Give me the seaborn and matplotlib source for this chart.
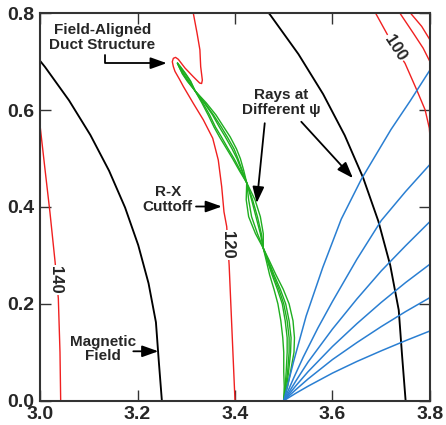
import matplotlib
matplotlib.use("Agg")
import matplotlib.pyplot as plt
import seaborn as sns
import pandas as pd

# ---------------- data ----------------
# Magnetic field lines
field1_x = [3.2500, 3.2437, 3.2378, 3.2227, 3.2015, 3.1745, 3.1417, 3.1033, 3.0595, 3.0104, 2.9785]
field1_y = [0.0000, 0.0812, 0.1620, 0.2422, 0.3212, 0.3989, 0.4748, 0.5487, 0.6202, 0.6890, 0.7289]
field2_x = [3.7500, 3.7427, 3.7359, 3.7185, 3.6941, 3.6629, 3.6251, 3.5808, 3.5302, 3.4735, 3.4615]
field2_y = [0.0000, 0.0937, 0.1870, 0.2794, 0.3706, 0.4603, 0.5479, 0.6331, 0.7156, 0.7950, 0.8105]

# R-X cutoff contours
red140_x = [3.000, 3.010, 3.0205, 3.031, 3.0376, 3.041, 3.0424]
red140_y = [0.569, 0.480, 0.388, 0.286, 0.211, 0.100, 0.000]
red120_x = [3.3145, 3.322, 3.328, 3.3296, 3.3330, 3.3315, 3.3275, 3.3145, 3.2974, 3.2837,
            3.2780, 3.2735, 3.2714, 3.2735, 3.2769, 3.2860, 3.2940, 3.3145, 3.3350, 3.3543,
            3.3657, 3.3727, 3.3774, 3.3830, 3.3880, 3.3940, 3.4000]
red120_y = [0.800, 0.760, 0.7246, 0.690, 0.662, 0.655, 0.656, 0.669, 0.687, 0.705,
            0.709, 0.707, 0.700, 0.690, 0.680, 0.664, 0.649, 0.614, 0.580, 0.542,
            0.497, 0.442, 0.390, 0.3595, 0.280, 0.140, 0.000]
red100a_x = [3.6886, 3.711, 3.728, 3.7487, 3.7727, 3.790, 3.7986, 3.800]
red100a_y = [0.800, 0.759, 0.728, 0.697, 0.642, 0.6006, 0.563, 0.545]
red100b_x = [3.7385, 3.7658, 3.786, 3.800]
red100b_y = [0.800, 0.759, 0.728, 0.700]
red100c_x = [3.7603, 3.783, 3.800]
red100c_y = [0.800, 0.773, 0.745]

# Ducted (green) rays
green_y = [0.0, 0.03, 0.06, 0.10, 0.13, 0.165, 0.20, 0.23, 0.26, 0.29, 0.315, 0.345, 0.38, 0.415,
           0.45, 0.475, 0.50, 0.52, 0.545, 0.565, 0.59, 0.615, 0.64, 0.66, 0.675, 0.69, 0.697]
green_a = [3.500, 3.508, 3.514, 3.521, 3.522, 3.519, 3.511, 3.499, 3.484, 3.470, 3.458, 3.442, 3.428, 3.423,
           3.424, 3.418, 3.411, 3.403, 3.390, 3.377, 3.361, 3.341, 3.318, 3.302, 3.292, 3.285, 3.282]
green_b = [3.500, 3.506, 3.510, 3.514, 3.515, 3.511, 3.504, 3.493, 3.480, 3.468, 3.458, 3.446, 3.434, 3.428,
           3.424, 3.415, 3.406, 3.398, 3.384, 3.372, 3.356, 3.338, 3.318, 3.308, 3.298, 3.287, 3.282]
green_c = [3.500, 3.503, 3.505, 3.507, 3.507, 3.503, 3.497, 3.487, 3.476, 3.466, 3.458, 3.454, 3.446, 3.436,
           3.424, 3.411, 3.398, 3.386, 3.372, 3.360, 3.348, 3.334, 3.318, 3.305, 3.295, 3.286, 3.282]
green_d = [3.500, 3.501, 3.500, 3.500, 3.498, 3.494, 3.488, 3.480, 3.471, 3.464, 3.458, 3.458, 3.452, 3.441,
           3.424, 3.409, 3.395, 3.383, 3.368, 3.357, 3.345, 3.332, 3.318, 3.309, 3.299, 3.288, 3.282]
green_e = [3.500, 3.504, 3.508, 3.511, 3.511, 3.507, 3.500, 3.490, 3.478, 3.467, 3.458, 3.452, 3.443, 3.434,
           3.424, 3.414, 3.404, 3.394, 3.380, 3.368, 3.354, 3.337, 3.318, 3.303, 3.293, 3.285, 3.282]

# Unducted (blue) rays at different psi
blue1_x = [3.500, 3.520, 3.546, 3.580, 3.618, 3.659, 3.720, 3.760, 3.800]
blue1_y = [0.000, 0.080, 0.175, 0.275, 0.375, 0.457, 0.560, 0.620, 0.683]
blue2_x = [3.500, 3.520, 3.540, 3.570, 3.600, 3.650, 3.700, 3.750, 3.800]
blue2_y = [0.000, 0.046, 0.090, 0.150, 0.205, 0.292, 0.372, 0.432, 0.488]
blue_x = [3.500, 3.525, 3.550, 3.600, 3.650, 3.700, 3.750, 3.800]
blue3_y = [0.000, 0.041, 0.080, 0.148, 0.210, 0.268, 0.320, 0.370]
blue4_y = [0.000, 0.031, 0.060, 0.112, 0.159, 0.203, 0.244, 0.282]
blue5_y = [0.000, 0.023, 0.045, 0.085, 0.120, 0.153, 0.184, 0.213]
blue6_y = [0.000, 0.0155, 0.030, 0.057, 0.081, 0.103, 0.124, 0.144]

xticks = [3.0, 3.2, 3.4, 3.6, 3.8]
xtick_labels = ["3.0", "3.2", "3.4", "3.6", "3.8"]
yticks = [0.0, 0.2, 0.4, 0.6, 0.8]
ytick_labels = ["0.0", "0.2", "0.4", "0.6", "0.8"]

# ---------------- styling ----------------
sns.set_style("ticks")
plt.rcParams['font.family'] = ['Liberation Sans', 'DejaVu Sans']

RED = "#f02020"
GREEN = "#1fae1f"
BLUE = "#2a7fd2"

fig = plt.figure(figsize=(4.46, 4.25), dpi=100)
ax = fig.add_axes([0.0897, 0.0572, 0.8744, 0.9115])


def line(xs, ys, color, lw):
    df = pd.DataFrame({"x": xs, "y": ys})
    sns.lineplot(data=df, x="x", y="y", sort=False, estimator=None,
                 color=color, linewidth=lw, ax=ax)


# field lines
line(field1_x, field1_y, "black", 1.35)
line(field2_x, field2_y, "black", 1.35)

# red contours
for xs, ys in [(red140_x, red140_y), (red120_x, red120_y),
               (red100a_x, red100a_y), (red100b_x, red100b_y), (red100c_x, red100c_y)]:
    line(xs, ys, RED, 1.0)

# green rays
for gx in [green_a, green_b, green_c, green_d, green_e]:
    line(gx, green_y, GREEN, 1.0)

# blue rays
for bx, by in [(blue1_x, blue1_y), (blue2_x, blue2_y), (blue_x, blue3_y),
               (blue_x, blue4_y), (blue_x, blue5_y), (blue_x, blue6_y)]:
    line(bx, by, BLUE, 1.1)

# contour labels
lab_kw = dict(fontsize=12, fontweight='bold', ha='center', va='center',
              bbox=dict(facecolor='white', edgecolor='none', pad=1.0))
ax.text(3.031, 0.249, "140", rotation=-90, **lab_kw)
ax.text(3.384, 0.322, "120", rotation=-90, **lab_kw)
ax.text(3.728, 0.728, "100", rotation=-57, **lab_kw)

# annotations
ann_kw = dict(fontsize=11, fontweight='bold', ha='center', va='center', linespacing=1.05)
arrow = dict(arrowstyle='-|>,head_length=0.7,head_width=0.25', color='black', lw=1.3,
             mutation_scale=14, shrinkA=0, shrinkB=0)

ax.text(3.128, 0.750, "Field-Aligned\nDuct Structure", **ann_kw)
ax.annotate("", xy=(3.260, 0.697), xytext=(3.133, 0.714),
            arrowprops=dict(connectionstyle="angle,angleA=-90,angleB=180,rad=0", **arrow))

ax.text(3.495, 0.616, "Rays at\nDifferent \u03c8", **ann_kw)
ax.annotate("", xy=(3.4445, 0.408), xytext=(3.461, 0.573), arrowprops=arrow)
ax.annotate("", xy=(3.642, 0.4595), xytext=(3.536, 0.576), arrowprops=arrow)

ax.text(3.262, 0.415, "R-X\nCuttoff", **ann_kw)
ax.annotate("", xy=(3.373, 0.401), xytext=(3.320, 0.401), arrowprops=arrow)

ax.text(3.130, 0.107, "Magnetic\nField", **ann_kw)
ax.annotate("", xy=(3.2427, 0.102), xytext=(3.1914, 0.102), arrowprops=arrow)

# axes
ax.set_xlim(3.0, 3.8)
ax.set_ylim(0.0, 0.8)
ax.set_xticks(xticks, xtick_labels, fontweight='bold')
ax.set_yticks(yticks, ytick_labels, fontweight='bold')
ax.set_xlabel("")
ax.set_ylabel("")
ax.tick_params(direction='in', length=8, width=1.0, top=True, right=True,
               labelsize=14, pad=4, color='#333333')
for s in ax.spines.values():
    s.set_visible(True)
    s.set_linewidth(1.5)
    s.set_color('#333333')

fig.savefig("out.png", dpi=100, facecolor='white')
